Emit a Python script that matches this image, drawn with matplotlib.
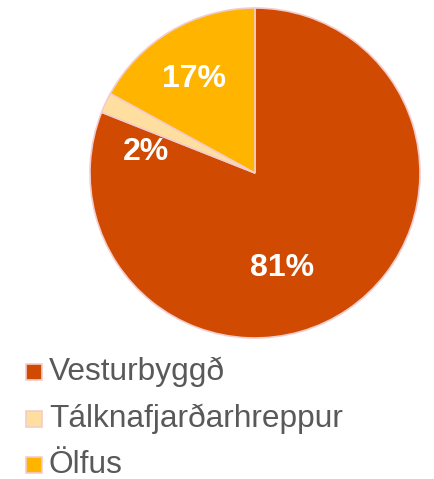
import matplotlib
matplotlib.use('Agg')
import matplotlib.pyplot as plt
from matplotlib.patches import Rectangle
import numpy as np

labels = ['Vesturbyggð', 'Tálknafjarðarhreppur', 'Ölfus']
values = [81, 2, 17]
colors = ['#D04A02', '#FFDF9F', '#FFB400']

# where Excel put the percent labels (angle in degrees, radius fraction)
label_angles = [-74, 169, 123]
label_radius = [0.60, 0.67, 0.68]

plt.rcParams['font.family'] = ['Liberation Sans', 'DejaVu Sans']

fig = plt.figure(figsize=(4.34, 4.79), dpi=100)
ax = fig.add_axes([90 / 434, 1 - 338 / 479, 330 / 434, 330 / 479])
wedges, texts, autotexts = ax.pie(values, colors=colors, startangle=90, counterclock=False,
                                  autopct='%1.0f%%', radius=1.0,
                                  wedgeprops=dict(edgecolor='#F4CCCC', linewidth=1.2),
                                  textprops=dict(color='white', fontsize=23, fontweight='bold'))
for t, a, r in zip(autotexts, label_angles, label_radius):
    t.set_position((r * np.cos(np.radians(a)), r * np.sin(np.radians(a))))
    t.set_ha('center')
    t.set_va('center')
ax.set_xlim(-1, 1)
ax.set_ylim(-1, 1)
ax.set_aspect('equal')
ax.axis('off')

# legend drawn by hand
W, H = 434, 479
for i, (lab, c) in enumerate(zip(labels, colors)):
    yc = 372 + i * 46.5
    fig.patches.append(Rectangle((26 / W, 1 - (yc + 8) / H), 16 / W, 16 / H, transform=fig.transFigure,
                                 facecolor=c, edgecolor='#F4CCCC', linewidth=1.2))
    fig.text(49 / W, 1 - yc / H, lab, fontsize=22.8, color='#595959', va='center', ha='left')

fig.savefig('out.png', dpi=100)
